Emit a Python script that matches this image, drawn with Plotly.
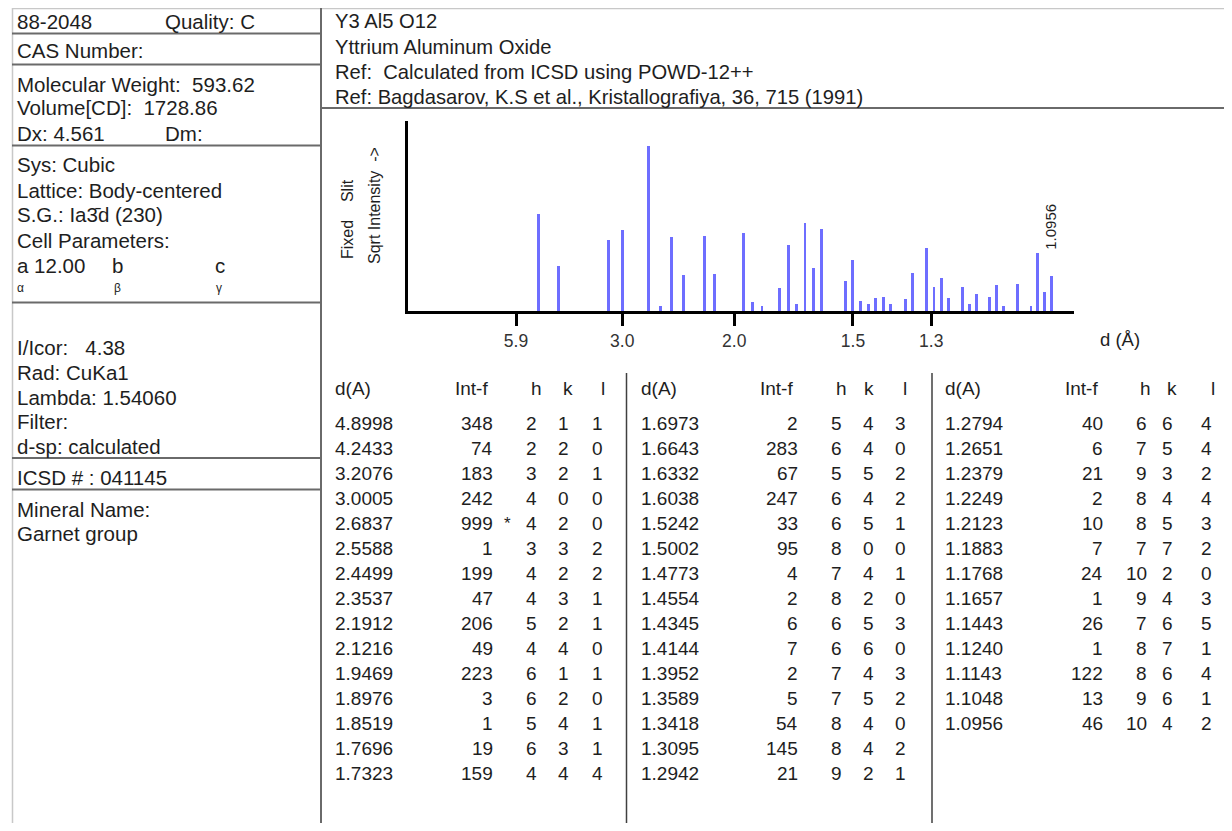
import math
import plotly.graph_objects as go

# ---------------- data ----------------
d_spacing = [4.8998, 4.2433, 3.2076, 3.0005, 2.6837, 2.5588, 2.4499, 2.3537, 2.1912, 2.1216,
             1.9469, 1.8976, 1.8519, 1.7696, 1.7323,
             1.6973, 1.6643, 1.6332, 1.6038, 1.5242, 1.5002, 1.4773, 1.4554, 1.4345, 1.4144,
             1.3952, 1.3589, 1.3418, 1.3095, 1.2942,
             1.2794, 1.2651, 1.2379, 1.2249, 1.2123, 1.1883, 1.1768, 1.1657, 1.1443, 1.1240,
             1.1143, 1.1048, 1.0956]
intensity = [348, 74, 183, 242, 999, 1, 199, 47, 206, 49, 223, 3, 1, 19, 159,
             2, 283, 67, 247, 33, 95, 4, 2, 6, 7, 2, 5, 54, 145, 21,
             40, 6, 21, 2, 10, 7, 24, 1, 26, 1, 122, 13, 46]
h_idx = [2, 2, 3, 4, 4, 3, 4, 4, 5, 4, 6, 6, 5, 6, 4,
         5, 6, 5, 6, 6, 8, 7, 8, 6, 6, 7, 7, 8, 8, 9,
         6, 7, 9, 8, 8, 7, 10, 9, 7, 8, 8, 9, 10]
k_idx = [1, 2, 2, 0, 2, 3, 2, 3, 2, 4, 1, 2, 4, 3, 4,
         4, 4, 5, 4, 5, 0, 4, 2, 5, 6, 4, 5, 4, 4, 2,
         6, 5, 3, 4, 5, 7, 2, 4, 6, 7, 6, 6, 4]
l_idx = [1, 0, 1, 0, 0, 2, 2, 1, 1, 0, 1, 0, 1, 1, 4,
         3, 0, 2, 2, 1, 0, 1, 0, 3, 0, 3, 2, 0, 2, 1,
         4, 4, 2, 4, 3, 2, 0, 3, 5, 1, 4, 1, 2]
tick_d_labels = ["5.9", "3.0", "2.0", "1.5", "1.3"]
rows_per_column = [15, 15, 13]
wavelength = 1.5406  # CuKa1
labelled_peak = "1.0956"

left_lines = [
    ("88-2048", 15, 21), ("Quality: C", 163, 21),
    ("CAS Number:", 15, 50),
    ("Molecular Weight:  593.62", 15, 84),
    ("Volume[CD]:  1728.86", 15, 108),
    ("Dx: 4.561", 15, 133), ("Dm:", 163, 133),
    ("Sys: Cubic", 15, 164),
    ("Lattice: Body-centered", 15, 190),
    ("S.G.: Ia3\u0304d (230)", 15, 215),
    ("Cell Parameters:", 15, 240),
    ("a 12.00", 15, 266), ("b", 110, 266), ("c", 213, 266),
    ("I/Icor:   4.38", 15, 347),
    ("Rad: CuKa1", 15, 372),
    ("Lambda: 1.54060", 15, 397),
    ("Filter:", 15, 422),
    ("d-sp: calculated", 15, 446),
    ("ICSD # : 041145", 15, 477),
    ("Mineral Name:", 15, 509),
    ("Garnet group", 15, 533),
]
angle_lines = [("\u03b1", 15, 288), ("\u03b2", 112, 288), ("\u03b3", 214, 288)]
header_lines = [
    ("Y3 Al5 O12", 333, 21),
    ("Yttrium Aluminum Oxide", 333, 47),
    ("Ref:  Calculated from ICSD using POWD-12++", 333, 72),
    ("Ref: Bagdasarov, K.S et al., Kristallografiya, 36, 715 (1991)", 333, 97),
]

# ---------------- page geometry (screen px -> paper) ----------------
OFF = 8
W, H = 1216, 815
def px(x):
    return (x - OFF) / W
def py(y):
    return 1 - (y - OFF) / H

FONT = "Liberation Sans, Arial, sans-serif"
TXT = "#1e1e1e"

two_theta = [2 * math.degrees(math.asin(wavelength / (2 * d))) for d in d_spacing]
sqrt_int = [math.sqrt(v) for v in intensity]
tick_vals = [2 * math.degrees(math.asin(wavelength / (2 * float(t)))) for t in tick_d_labels]

fig = go.Figure()
fig.add_trace(go.Bar(x=two_theta, y=sqrt_int, width=0.4,
                     marker=dict(color="#6e6eff", line=dict(width=0)),
                     hoverinfo="skip", showlegend=False))

annotations = []
def text(s, x, y, size=19, xanchor="left", color=TXT):
    annotations.append(dict(text=s, x=px(x), y=py(y), xref="paper", yref="paper",
                            xanchor=xanchor, yanchor="middle", showarrow=False,
                            font=dict(family=FONT, size=size, color=color)))

for s, x, y in left_lines:
    text(s, x, y, 20.5)
for s, x, y in angle_lines:
    text(s, x, y, 12)
for s, x, y in header_lines:
    text(s, x, y, 20.2)

# table
col_x = [  # d left, int right, h right, k right, l right
    (333, 495, 539, 571, 605),
    (639, 800, 844, 876, 908),
    (943, 1105, 1149, 1175, 1214),
]
head_x = [(333, 453, 529, 561, 599), (639, 758, 834, 862, 901), (943, 1063, 1138, 1165, 1209)]
imax = intensity.index(max(intensity))
start = 0
for c, n in enumerate(rows_per_column):
    dx, ix, hx, kx, lx = col_x[c]
    hdx, hix, hhx, hkx, hlx = head_x[c]
    text("d(A)", hdx, 388)
    text("Int-f", hix, 388)
    text("h", hhx, 388)
    text("k", hkx, 388)
    text("l", hlx, 388)
    for r in range(n):
        i = start + r
        y = 423.5 + r * 25.0
        text(f"{d_spacing[i]:.4f}", dx, y)
        text(str(intensity[i]), ix, y, xanchor="right")
        if i == imax:
            text("*", ix + 7, y, 17)
        text(str(h_idx[i]), hx, y, xanchor="right")
        text(str(k_idx[i]), kx, y, xanchor="right")
        text(str(l_idx[i]), lx, y, xanchor="right")
    start += n

# chart texts
annotations.append(dict(text="Fixed    Slit", x=px(347), y=py(219), xref="paper", yref="paper",
                        textangle=-90, showarrow=False, xanchor="center", yanchor="middle",
                        font=dict(family=FONT, size=16, color=TXT)))
annotations.append(dict(text="Sqrt Intensity  ->", x=px(375), y=py(205), xref="paper", yref="paper",
                        textangle=-90, showarrow=False, xanchor="center", yanchor="middle",
                        font=dict(family=FONT, size=16, color=TXT)))
text("d (\u00c5)", 1098, 339, 18.5)
lp = d_spacing.index(float(labelled_peak))
annotations.append(dict(text=labelled_peak, x=two_theta[lp], y=11.4, xref="x", yref="y",
                        textangle=-90, showarrow=False, xanchor="center", yanchor="bottom",
                        xshift=-1, font=dict(family=FONT, size=15, color=TXT)))

# lines
shapes = []
def line(x0, y0, x1, y1, color="#7a7a7a", width=2):
    shapes.append(dict(type="line", xref="paper", yref="paper", x0=px(x0), y0=py(y0),
                       x1=px(x1), y1=py(y1), line=dict(color=color, width=width)))

line(12, 8.5, 1232, 8.5, "#c8c8c8", 1.5)
line(12.5, 8, 12.5, 831, "#c8c8c8", 1.5)
line(321, 8, 321, 831, "#6a6a6a", 2)
for yy in [33.5, 64.5, 145.5, 302.5, 458, 489.5]:
    line(12, yy, 321, yy, "#6a6a6a", 2)
line(321, 108, 1232, 108, "#6a6a6a", 2)
line(626.5, 373, 626.5, 831, "#404040", 1.5)
line(932, 373, 932, 831, "#404040", 1.5)

fig.update_layout(
    width=W, height=H,
    margin=dict(l=0, r=0, t=0, b=0),
    paper_bgcolor="white", plot_bgcolor="white",
    annotations=annotations, shapes=shapes,
    bargap=0,
    xaxis=dict(domain=[px(408), px(1074)], range=[0, 92.5], showline=True, linecolor="black",
               linewidth=3, ticks="outside", ticklen=12, tickwidth=3, tickcolor="black",
               tickvals=tick_vals, ticktext=tick_d_labels, showgrid=False, zeroline=False,
               tickfont=dict(family=FONT, size=17.5, color="#333333"), fixedrange=True),
    yaxis=dict(domain=[py(311), py(121)], range=[0, 36.4], showline=True, linecolor="black",
               linewidth=3, ticks="", showticklabels=False, showgrid=False, zeroline=False,
               fixedrange=True),
)

fig.write_html("out.html")
